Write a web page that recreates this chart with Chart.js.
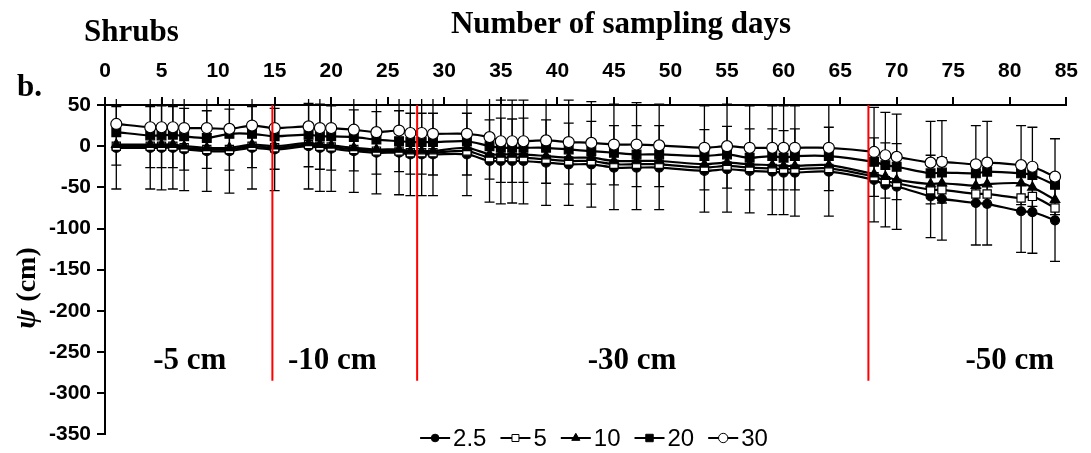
<!DOCTYPE html>
<html>
<head>
<meta charset="utf-8">
<script src="https://cdn.jsdelivr.net/npm/chart.js@4.4.1/dist/chart.umd.min.js"></script>
<style>html,body{margin:0;padding:0;background:#fff;}</style>
</head>
<body>
<canvas id="psiChart" width="1091" height="453"></canvas>
<script>
// sampling days (top axis)
const days = [1, 4, 5, 6, 7, 9, 11, 13, 15, 18, 19, 20, 22, 24, 26, 27, 28, 29, 32, 34, 35, 36, 37, 39, 41, 43, 45, 47, 49, 53, 55, 57, 59, 60, 61, 64, 68, 69, 70, 73, 74, 77, 78, 81, 82, 84];

// psi (cm) per depth
const psi25 = [-2, -2, -2, -2, -4, -6, -6, -2, -4, 0, -2, -3, -6, -8, -8, -10, -10, -10, -10, -18, -18, -18, -18, -20, -22, -22, -26, -26, -26, -30, -28, -30, -31, -32, -32, -31, -41, -47, -49, -61, -64, -69, -70, -79, -80, -90];
const psi5 = [0, 0, 0, 0, -2, -4, -4, 0, -2, 2, 0, -1, -4, -6, -6, -8, -8, -8, -6, -14, -14, -14, -14, -16, -18, -18, -22, -22, -22, -26, -24, -26, -27, -28, -28, -27, -37, -42, -45, -53, -53, -58, -58, -63, -61, -75];
const psi10 = [2, 2, 2, 2, 0, -2, -2, 2, 0, 4, 2, 1, -2, -4, -4, -6, -6, -6, -2, -10, -10, -10, -10, -12, -14, -14, -18, -18, -18, -22, -20, -22, -23, -24, -24, -23, -34, -37, -41, -46, -45, -48, -46, -45, -50, -65];
const psi20 = [17, 13, 13, 14, 12, 10, 15, 15, 12, 14, 12, 12, 11, 8, 6, 5, 5, 5, 6, 0, -2, -2, -2, -2, -4, -6, -8, -10, -10, -12, -10, -14, -12, -14, -12, -12, -19, -23, -25, -33, -32, -33, -31, -33, -35, -47];
const psi30 = [27, 23, 23, 23, 22, 22, 21, 25, 22, 24, 22, 22, 20, 17, 19, 16, 16, 15, 15, 11, 6, 6, 6, 7, 5, 4, 2, 2, 1, -2, 0, -2, -2, -2, -2, -2, -7, -11, -13, -20, -19, -22, -20, -23, -25, -37];

// standard deviations (error bars on 2.5 and 30)
const sd25 = [50, 50, 51, 50, 50, 49, 51, 50, 50, 52, 53, 52, 50, 50, 51, 50, 50, 50, 50, 50, 52, 51, 52, 52, 50, 52, 51, 51, 51, 50, 52, 51, 52, 51, 53, 54, 51, 51, 52, 50, 50, 51, 50, 50, 50, 50];
const sd30 = [50, 49, 49, 49, 51, 49, 50, 51, 50, 49, 50, 51, 50, 51, 50, 50, 50, 50, 50, 51, 50, 50, 50, 52, 51, 50, 49, 51, 50, 51, 51, 51, 51, 51, 51, 52, 54, 52, 52, 50, 50, 47, 50, 48, 48, 46];

const depthLabels = ['2.5', '5', '10', '20', '30'];
const xTicks = [0, 5, 10, 15, 20, 25, 30, 35, 40, 45, 50, 55, 60, 65, 70, 75, 80, 85];
const yTicks = [50, 0, -50, -100, -150, -200, -250, -300, -350];

// sensor depth changes
const dividerDays = [14.8, 27.6, 67.5];
const dividerBottom = -285;
const sectionLabels = ['-5 cm', '-10 cm', '-30 cm', '-50 cm'];
const sectionDays = [7.5, 20.1, 46.6, 80];
const sectionLevel = -261;

const series = [psi25, psi5, psi10, psi20, psi30];
const styles = [
    { pointStyle: 'circle', radius: 4.5, fill: '#000' },
    { pointStyle: 'rect', radius: 5.8, fill: '#fff' },
    { pointStyle: 'triangle', radius: 5.5, fill: '#000' },
    { pointStyle: 'rect', radius: 6.2, fill: '#000' },
    { pointStyle: 'circle', radius: 5.5, fill: '#fff' },
];

const datasets = series.map((vals, i) => ({
    label: depthLabels[i],
    data: days.map((d, j) => ({ x: d, y: vals[j] })),
    borderColor: '#000',
    borderWidth: 2.2,
    tension: 0.3,
    fill: false,
    pointStyle: styles[i].pointStyle,
    pointRadius: styles[i].radius,
    pointBackgroundColor: styles[i].fill,
    pointBorderColor: '#000',
    pointBorderWidth: 1.2,
    order: 4 - i,
}));

const decorations = {
    id: 'decorations',
    beforeDraw(chart) {
        const ctx = chart.ctx;
        ctx.save();
        ctx.fillStyle = '#fff';
        ctx.fillRect(0, 0, chart.width, chart.height);
        ctx.restore();
    },
    beforeDatasetsDraw(chart) {
        const { ctx, chartArea: a, scales: { x, y } } = chart;
        ctx.save();
        ctx.beginPath();
        ctx.rect(a.left, a.top - 6, a.right - a.left, a.bottom - a.top + 6);
        ctx.clip();
        ctx.strokeStyle = '#000';
        ctx.lineWidth = 1.3;
        [[psi25, sd25], [psi30, sd30]].forEach(([vals, sds]) => {
            days.forEach((d, i) => {
                const px = x.getPixelForValue(d);
                const top = y.getPixelForValue(vals[i] + sds[i]);
                const bot = y.getPixelForValue(vals[i] - sds[i]);
                ctx.beginPath();
                ctx.moveTo(px, top); ctx.lineTo(px, bot);
                ctx.moveTo(px - 5, top); ctx.lineTo(px + 5, top);
                ctx.moveTo(px - 5, bot); ctx.lineTo(px + 5, bot);
                ctx.stroke();
            });
        });
        ctx.restore();
    },
    afterDatasetsDraw(chart) {
        const { ctx, scales: { x, y } } = chart;
        ctx.save();
        ctx.strokeStyle = '#ff0000';
        ctx.lineWidth = 2;
        dividerDays.forEach(d => {
            const px = x.getPixelForValue(d);
            ctx.beginPath();
            ctx.moveTo(px, y.getPixelForValue(50));
            ctx.lineTo(px, y.getPixelForValue(dividerBottom));
            ctx.stroke();
        });
        ctx.fillStyle = '#000';
        ctx.font = 'bold 31px "Liberation Serif"';
        ctx.textAlign = 'center';
        ctx.textBaseline = 'middle';
        sectionLabels.forEach((t, i) => {
            ctx.fillText(t, x.getPixelForValue(sectionDays[i]), y.getPixelForValue(sectionLevel));
        });
        ctx.restore();
    },
    afterDraw(chart) {
        const ctx = chart.ctx;
        ctx.save();
        ctx.fillStyle = '#000';
        ctx.textBaseline = 'alphabetic';
        ctx.font = 'bold 31px "Liberation Serif"';
        ctx.textAlign = 'center';
        ctx.fillText('Number of sampling days', 621, 33);
        ctx.textAlign = 'left';
        ctx.fillText('Shrubs', 84, 41);
        ctx.fillText('b.', 17, 96);

        // y axis title
        ctx.save();
        ctx.translate(35, 288);
        ctx.rotate(-Math.PI / 2);
        const psiFont = 'italic bold 30px "Liberation Serif"';
        const cmFont = 'bold 28px "Liberation Serif"';
        ctx.font = psiFont;
        const w1 = ctx.measureText('ψ').width;
        ctx.font = cmFont;
        const w2 = ctx.measureText(' (cm)').width;
        let sx = -(w1 + w2) / 2;
        ctx.font = psiFont;
        ctx.fillText('ψ', sx, 0);
        ctx.font = cmFont;
        ctx.fillText(' (cm)', sx + w1, 0);
        ctx.restore();

        // legend
        const lineLen = 30, textGap = 3, itemGap = 14, ly = 438;
        ctx.font = '24px "Liberation Sans"';
        const widths = depthLabels.map(t => ctx.measureText(t).width);
        const total = widths.reduce((s, w) => s + lineLen + textGap + w, 0) + itemGap * (depthLabels.length - 1);
        let lx = 594 - total / 2;
        ctx.textBaseline = 'middle';
        depthLabels.forEach((t, i) => {
            ctx.strokeStyle = '#000';
            ctx.lineWidth = 2;
            ctx.beginPath();
            ctx.moveTo(lx, ly); ctx.lineTo(lx + lineLen, ly);
            ctx.stroke();
            ctx.fillStyle = styles[i].fill;
            ctx.lineWidth = 1;
            Chart.helpers.drawPoint(ctx, { pointStyle: styles[i].pointStyle, radius: styles[i].radius * 0.85, borderWidth: 1, rotation: 0 }, lx + lineLen / 2, ly);
            ctx.fillStyle = '#000';
            ctx.fillText(t, lx + lineLen + textGap, ly + 1);
            lx += lineLen + textGap + widths[i] + itemGap;
        });
        ctx.restore();
    }
};

const tickFont = { family: '"Liberation Sans", Arial, sans-serif', weight: 'bold', size: 21 };

new Chart(document.getElementById('psiChart'), {
    type: 'line',
    data: { datasets },
    options: {
        responsive: false,
        animation: false,
        layout: { padding: { left: 0, right: 16, top: 0, bottom: 17 } },
        plugins: { legend: { display: false }, tooltip: { enabled: false } },
        scales: {
            x: {
                type: 'linear',
                position: 'top',
                min: 0,
                max: 85,
                afterBuildTicks: s => { s.ticks = xTicks.map(v => ({ value: v })); },
                afterFit: s => { s.height = 105; },
                ticks: { font: tickFont, color: '#000', padding: 13, maxRotation: 0, autoSkip: false },
                grid: { drawOnChartArea: false, drawTicks: true, tickLength: 8, color: '#000', lineWidth: 2 },
                border: { color: '#000', width: 2 },
            },
            y: {
                min: -350,
                max: 50,
                afterBuildTicks: s => { s.ticks = yTicks.map(v => ({ value: v })); },
                afterFit: s => { s.width = 105; },
                ticks: { font: tickFont, color: '#000', padding: 6 },
                grid: { drawOnChartArea: false, drawTicks: true, tickLength: 8, color: '#000', lineWidth: 2 },
                border: { color: '#000', width: 2 },
            },
        },
    },
    plugins: [decorations],
});
</script>
</body>
</html>
